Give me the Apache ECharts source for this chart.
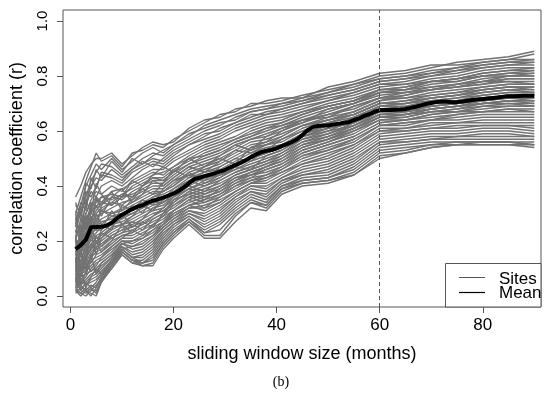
<!DOCTYPE html>
<html><head><meta charset="utf-8">
<script src="https://cdn.jsdelivr.net/npm/echarts@6/dist/echarts.min.js"></script>
<style>html,body{margin:0;padding:0;background:#fff}#c{width:550px;height:394px}</style>
</head><body><div id="c"></div>
<script>
// ---- data ----
const siteMonths = [1,2,3,4,5,6,8,10,12,14,16,18,20,23,26,29,32,35,38,41,45,50,55,60,65,70,75,80,85,90];
const sites = [
 [0.30,0.36,0.42,0.47,0.52,0.49,0.51,0.47,0.52,0.53,0.55,0.54,0.57,0.60,0.63,0.66,0.67,0.70,0.70,0.71,0.73,0.75,0.77,0.80,0.81,0.83,0.85,0.86,0.87,0.89],
 [0.36,0.40,0.45,0.48,0.50,0.50,0.52,0.48,0.51,0.54,0.56,0.55,0.56,0.61,0.64,0.65,0.68,0.69,0.71,0.72,0.72,0.76,0.78,0.81,0.82,0.84,0.84,0.85,0.86,0.88],
 [0.28,0.33,0.40,0.44,0.48,0.46,0.50,0.46,0.49,0.52,0.54,0.52,0.55,0.58,0.62,0.64,0.66,0.68,0.69,0.70,0.72,0.74,0.77,0.79,0.80,0.82,0.83,0.84,0.85,0.86],
 [0.33,0.30,0.36,0.42,0.45,0.48,0.47,0.44,0.47,0.50,0.52,0.51,0.54,0.57,0.60,0.62,0.65,0.67,0.68,0.69,0.71,0.73,0.75,0.78,0.79,0.81,0.82,0.84,0.85,0.85],
 [0.25,0.32,0.34,0.40,0.43,0.42,0.46,0.43,0.46,0.48,0.50,0.49,0.52,0.55,0.58,0.61,0.63,0.65,0.67,0.68,0.70,0.72,0.74,0.77,0.78,0.80,0.81,0.83,0.84,0.84],
 [0.31,0.28,0.38,0.36,0.40,0.44,0.43,0.41,0.45,0.47,0.49,0.48,0.51,0.55,0.57,0.59,0.62,0.64,0.66,0.67,0.69,0.71,0.74,0.77,0.77,0.79,0.80,0.82,0.83,0.83],
 [0.22,0.26,0.33,0.38,0.36,0.40,0.42,0.40,0.43,0.46,0.48,0.47,0.50,0.53,0.56,0.58,0.61,0.63,0.65,0.66,0.68,0.71,0.73,0.76,0.77,0.78,0.79,0.81,0.82,0.82],
 [0.27,0.24,0.30,0.35,0.38,0.37,0.40,0.38,0.42,0.44,0.46,0.46,0.49,0.52,0.55,0.57,0.60,0.62,0.64,0.65,0.67,0.70,0.72,0.75,0.76,0.78,0.79,0.80,0.81,0.81],
 [0.20,0.28,0.27,0.33,0.36,0.34,0.38,0.39,0.41,0.43,0.45,0.44,0.47,0.51,0.54,0.56,0.58,0.61,0.63,0.64,0.67,0.69,0.71,0.75,0.75,0.77,0.78,0.80,0.80,0.81],
 [0.26,0.23,0.29,0.30,0.34,0.36,0.37,0.36,0.40,0.42,0.44,0.45,0.47,0.50,0.53,0.55,0.57,0.60,0.62,0.63,0.66,0.69,0.71,0.74,0.75,0.76,0.77,0.79,0.80,0.80],
 [0.18,0.22,0.30,0.34,0.32,0.36,0.35,0.37,0.39,0.41,0.43,0.43,0.46,0.49,0.52,0.54,0.57,0.59,0.61,0.62,0.65,0.68,0.70,0.74,0.74,0.76,0.77,0.78,0.79,0.79],
 [0.24,0.20,0.26,0.32,0.35,0.33,0.36,0.35,0.38,0.40,0.42,0.42,0.45,0.48,0.51,0.53,0.56,0.58,0.60,0.62,0.64,0.67,0.70,0.73,0.74,0.75,0.76,0.78,0.78,0.78],
 [0.15,0.24,0.25,0.28,0.31,0.34,0.33,0.36,0.37,0.39,0.41,0.41,0.44,0.48,0.50,0.52,0.55,0.57,0.59,0.61,0.64,0.66,0.69,0.72,0.73,0.75,0.76,0.77,0.78,0.77],
 [0.21,0.18,0.27,0.26,0.30,0.32,0.34,0.33,0.36,0.38,0.40,0.40,0.43,0.47,0.49,0.51,0.54,0.57,0.58,0.60,0.63,0.66,0.68,0.72,0.72,0.74,0.75,0.76,0.77,0.77],
 [0.19,0.21,0.23,0.30,0.29,0.30,0.32,0.34,0.35,0.37,0.39,0.39,0.42,0.46,0.48,0.50,0.53,0.56,0.57,0.59,0.62,0.65,0.67,0.71,0.72,0.73,0.74,0.75,0.76,0.76],
 [0.13,0.17,0.22,0.25,0.28,0.31,0.30,0.32,0.34,0.36,0.38,0.38,0.41,0.45,0.47,0.49,0.52,0.55,0.56,0.58,0.62,0.64,0.66,0.70,0.71,0.72,0.73,0.75,0.76,0.75],
 [0.20,0.16,0.20,0.27,0.26,0.28,0.30,0.31,0.33,0.35,0.37,0.38,0.40,0.44,0.46,0.48,0.51,0.54,0.55,0.57,0.61,0.64,0.66,0.70,0.70,0.72,0.73,0.74,0.75,0.75],
 [0.16,0.19,0.18,0.24,0.27,0.26,0.29,0.30,0.32,0.34,0.36,0.37,0.39,0.43,0.45,0.47,0.50,0.53,0.55,0.56,0.60,0.63,0.65,0.69,0.70,0.71,0.72,0.73,0.74,0.74],
 [0.12,0.15,0.21,0.22,0.25,0.27,0.28,0.29,0.31,0.33,0.35,0.36,0.38,0.42,0.45,0.46,0.49,0.52,0.54,0.55,0.59,0.62,0.64,0.69,0.69,0.70,0.71,0.72,0.73,0.73],
 [0.18,0.14,0.17,0.23,0.24,0.24,0.27,0.29,0.30,0.32,0.34,0.35,0.38,0.41,0.44,0.45,0.48,0.51,0.53,0.55,0.59,0.62,0.64,0.68,0.68,0.70,0.71,0.72,0.73,0.73],
 [0.10,0.17,0.16,0.21,0.23,0.25,0.26,0.28,0.30,0.32,0.34,0.34,0.37,0.41,0.43,0.45,0.48,0.50,0.52,0.54,0.58,0.61,0.63,0.68,0.68,0.69,0.70,0.71,0.72,0.72],
 [0.15,0.12,0.19,0.20,0.22,0.23,0.26,0.27,0.29,0.31,0.33,0.34,0.36,0.40,0.43,0.44,0.47,0.50,0.52,0.54,0.58,0.61,0.63,0.67,0.67,0.69,0.70,0.71,0.72,0.72],
 [0.09,0.13,0.15,0.19,0.21,0.22,0.25,0.26,0.28,0.30,0.32,0.33,0.36,0.39,0.42,0.44,0.46,0.49,0.51,0.53,0.57,0.60,0.62,0.67,0.67,0.68,0.69,0.70,0.71,0.71],
 [0.14,0.10,0.13,0.18,0.20,0.21,0.24,0.26,0.27,0.29,0.31,0.32,0.35,0.39,0.41,0.43,0.46,0.48,0.50,0.52,0.56,0.59,0.62,0.66,0.66,0.68,0.69,0.70,0.70,0.70],
 [0.07,0.11,0.14,0.17,0.19,0.20,0.23,0.25,0.26,0.28,0.30,0.31,0.34,0.38,0.40,0.42,0.45,0.47,0.49,0.51,0.55,0.58,0.61,0.65,0.66,0.67,0.68,0.69,0.70,0.69],
 [0.12,0.09,0.12,0.16,0.18,0.19,0.22,0.24,0.25,0.27,0.29,0.31,0.33,0.37,0.39,0.41,0.44,0.46,0.48,0.50,0.54,0.57,0.60,0.65,0.65,0.67,0.67,0.68,0.69,0.69],
 [0.08,0.12,0.10,0.15,0.17,0.18,0.21,0.23,0.24,0.26,0.28,0.30,0.32,0.36,0.38,0.40,0.43,0.45,0.47,0.49,0.53,0.56,0.59,0.64,0.64,0.66,0.67,0.67,0.68,0.68],
 [0.11,0.07,0.11,0.14,0.16,0.17,0.20,0.22,0.23,0.25,0.27,0.29,0.31,0.35,0.37,0.39,0.42,0.44,0.46,0.48,0.52,0.55,0.58,0.63,0.64,0.65,0.66,0.67,0.67,0.67],
 [0.05,0.09,0.13,0.12,0.15,0.16,0.19,0.22,0.22,0.24,0.26,0.28,0.31,0.34,0.36,0.38,0.41,0.44,0.45,0.47,0.51,0.54,0.57,0.62,0.63,0.64,0.65,0.66,0.66,0.66],
 [0.10,0.06,0.08,0.13,0.14,0.15,0.18,0.21,0.21,0.23,0.25,0.27,0.30,0.33,0.35,0.37,0.40,0.43,0.44,0.46,0.50,0.53,0.56,0.62,0.62,0.64,0.64,0.65,0.65,0.65],
 [0.06,0.08,0.09,0.11,0.13,0.14,0.17,0.20,0.20,0.22,0.24,0.26,0.29,0.33,0.34,0.36,0.39,0.42,0.43,0.45,0.49,0.52,0.55,0.61,0.61,0.63,0.63,0.64,0.64,0.64],
 [0.09,0.05,0.07,0.10,0.12,0.13,0.16,0.20,0.19,0.21,0.23,0.26,0.29,0.32,0.33,0.35,0.38,0.41,0.42,0.45,0.48,0.51,0.55,0.60,0.61,0.62,0.63,0.63,0.63,0.63],
 [0.04,0.07,0.08,0.09,0.10,0.12,0.15,0.19,0.18,0.20,0.22,0.25,0.28,0.32,0.32,0.34,0.38,0.41,0.41,0.44,0.48,0.50,0.54,0.60,0.60,0.61,0.62,0.62,0.62,0.62],
 [0.08,0.04,0.06,0.08,0.09,0.11,0.14,0.19,0.17,0.18,0.21,0.25,0.28,0.31,0.30,0.33,0.37,0.40,0.40,0.43,0.47,0.49,0.53,0.59,0.60,0.61,0.61,0.62,0.62,0.61],
 [0.03,0.06,0.05,0.07,0.08,0.10,0.14,0.18,0.16,0.17,0.20,0.24,0.27,0.31,0.29,0.32,0.36,0.40,0.39,0.43,0.46,0.48,0.52,0.58,0.59,0.60,0.60,0.61,0.61,0.60],
 [0.07,0.03,0.04,0.06,0.07,0.09,0.13,0.18,0.15,0.16,0.19,0.24,0.27,0.30,0.28,0.31,0.36,0.39,0.38,0.42,0.45,0.47,0.51,0.57,0.58,0.59,0.59,0.60,0.60,0.59],
 [0.02,0.05,0.04,0.05,0.06,0.08,0.12,0.17,0.14,0.15,0.18,0.23,0.26,0.30,0.27,0.30,0.35,0.38,0.37,0.42,0.44,0.46,0.50,0.56,0.57,0.58,0.58,0.59,0.59,0.58],
 [0.06,0.02,0.05,0.03,0.05,0.08,0.12,0.17,0.14,0.14,0.17,0.22,0.26,0.29,0.26,0.29,0.34,0.38,0.36,0.41,0.44,0.45,0.49,0.56,0.56,0.57,0.58,0.58,0.58,0.58],
 [0.04,0.04,0.02,0.04,0.03,0.07,0.11,0.16,0.13,0.13,0.16,0.21,0.25,0.29,0.25,0.28,0.33,0.37,0.35,0.40,0.43,0.44,0.48,0.55,0.56,0.57,0.57,0.57,0.57,0.57],
 [0.02,0.01,0.03,0.02,0.04,0.06,0.11,0.16,0.13,0.12,0.15,0.20,0.24,0.28,0.24,0.27,0.32,0.36,0.34,0.40,0.42,0.43,0.47,0.54,0.55,0.56,0.56,0.56,0.56,0.56],
 [0.05,0.02,0.01,0.03,0.01,0.06,0.10,0.15,0.12,0.12,0.14,0.19,0.23,0.28,0.23,0.26,0.31,0.35,0.33,0.39,0.42,0.43,0.46,0.53,0.54,0.55,0.56,0.56,0.56,0.55],
 [0.02,0.00,0.02,0.01,0.00,0.05,0.10,0.15,0.12,0.11,0.12,0.18,0.22,0.27,0.22,0.22,0.29,0.34,0.32,0.38,0.41,0.42,0.45,0.52,0.53,0.55,0.55,0.55,0.55,0.55],
 [0.03,0.01,0.00,0.02,0.02,0.05,0.11,0.16,0.13,0.11,0.11,0.17,0.21,0.26,0.21,0.21,0.27,0.32,0.31,0.37,0.40,0.41,0.44,0.51,0.52,0.54,0.55,0.55,0.55,0.54],
 [0.01,0.03,0.02,0.00,0.03,0.07,0.12,0.17,0.14,0.12,0.13,0.19,0.23,0.27,0.23,0.24,0.30,0.34,0.33,0.39,0.41,0.42,0.44,0.50,0.52,0.54,0.55,0.56,0.56,0.55],
 [0.28,0.22,0.35,0.30,0.41,0.37,0.33,0.36,0.42,0.40,0.44,0.47,0.45,0.50,0.47,0.51,0.55,0.53,0.58,0.61,0.63,0.68,0.70,0.74,0.75,0.78,0.78,0.80,0.81,0.82],
 [0.12,0.26,0.20,0.29,0.24,0.33,0.38,0.31,0.35,0.39,0.37,0.41,0.46,0.43,0.47,0.50,0.48,0.54,0.56,0.60,0.64,0.65,0.69,0.72,0.74,0.75,0.77,0.78,0.80,0.80],
 [0.23,0.31,0.24,0.27,0.33,0.29,0.36,0.39,0.34,0.37,0.42,0.40,0.43,0.47,0.45,0.49,0.53,0.52,0.55,0.58,0.62,0.64,0.67,0.71,0.73,0.75,0.76,0.77,0.79,0.79],
 [0.09,0.16,0.27,0.21,0.30,0.26,0.24,0.33,0.31,0.35,0.33,0.39,0.42,0.44,0.42,0.47,0.50,0.49,0.53,0.57,0.60,0.63,0.66,0.70,0.71,0.73,0.74,0.76,0.77,0.77],
 [0.30,0.19,0.23,0.33,0.27,0.31,0.29,0.28,0.33,0.30,0.36,0.38,0.40,0.45,0.41,0.44,0.48,0.50,0.52,0.55,0.59,0.61,0.65,0.69,0.70,0.72,0.73,0.75,0.76,0.76],
 [0.16,0.21,0.12,0.26,0.19,0.24,0.31,0.26,0.29,0.33,0.31,0.35,0.39,0.42,0.40,0.43,0.47,0.46,0.51,0.53,0.58,0.60,0.64,0.68,0.69,0.71,0.72,0.74,0.75,0.74],
 [0.05,0.13,0.18,0.23,0.15,0.21,0.25,0.30,0.25,0.28,0.32,0.34,0.37,0.40,0.38,0.42,0.45,0.47,0.49,0.52,0.57,0.59,0.63,0.67,0.68,0.70,0.71,0.73,0.74,0.74],
 [0.20,0.09,0.15,0.17,0.22,0.18,0.22,0.24,0.27,0.26,0.29,0.32,0.36,0.39,0.37,0.40,0.44,0.46,0.48,0.51,0.56,0.58,0.62,0.66,0.67,0.69,0.70,0.72,0.73,0.73],
 [0.11,0.17,0.08,0.13,0.20,0.16,0.20,0.26,0.23,0.27,0.25,0.30,0.35,0.37,0.35,0.39,0.43,0.44,0.47,0.50,0.55,0.57,0.61,0.66,0.66,0.68,0.69,0.71,0.72,0.71],
 [0.03,0.08,0.12,0.09,0.11,0.14,0.18,0.21,0.24,0.22,0.26,0.29,0.33,0.36,0.34,0.37,0.41,0.43,0.46,0.48,0.53,0.56,0.60,0.64,0.65,0.67,0.68,0.70,0.71,0.71],
 [0.14,0.04,0.09,0.15,0.08,0.12,0.15,0.19,0.20,0.21,0.24,0.27,0.31,0.35,0.32,0.36,0.40,0.42,0.44,0.47,0.52,0.55,0.58,0.63,0.64,0.66,0.67,0.69,0.69,0.69],
 [0.06,0.10,0.03,0.07,0.10,0.08,0.13,0.17,0.18,0.19,0.22,0.26,0.30,0.33,0.31,0.34,0.38,0.41,0.43,0.46,0.51,0.53,0.57,0.62,0.63,0.64,0.66,0.67,0.68,0.67],
 [0.34,0.29,0.41,0.39,0.46,0.43,0.49,0.45,0.50,0.48,0.51,0.53,0.55,0.59,0.61,0.63,0.64,0.67,0.68,0.70,0.71,0.74,0.76,0.79,0.80,0.81,0.83,0.85,0.86,0.86],
 [0.26,0.34,0.31,0.43,0.39,0.45,0.44,0.42,0.46,0.49,0.47,0.50,0.53,0.56,0.59,0.60,0.63,0.66,0.66,0.68,0.70,0.73,0.75,0.78,0.79,0.80,0.82,0.83,0.84,0.85],
 [0.13,0.21,0.29,0.25,0.36,0.31,0.34,0.37,0.36,0.40,0.43,0.42,0.45,0.50,0.51,0.53,0.56,0.58,0.61,0.63,0.66,0.69,0.71,0.75,0.76,0.78,0.79,0.81,0.82,0.83],
 [0.22,0.11,0.16,0.19,0.17,0.23,0.21,0.23,0.26,0.24,0.28,0.30,0.34,0.38,0.36,0.38,0.42,0.45,0.47,0.49,0.54,0.57,0.61,0.65,0.66,0.68,0.69,0.70,0.71,0.70]
];
const meanValues = [
 0.170,0.185,0.205,0.250,0.251,0.252,0.256,0.266,0.282,0.295,
 0.306,0.316,0.325,0.330,0.340,0.347,0.352,0.358,0.365,0.372,
 0.382,0.395,0.410,0.425,0.430,0.436,0.441,0.446,0.452,0.459,
 0.468,0.476,0.484,0.493,0.505,0.515,0.523,0.528,0.531,0.537,
 0.545,0.552,0.560,0.570,0.585,0.603,0.614,0.618,0.620,0.620,
 0.624,0.626,0.630,0.632,0.640,0.646,0.655,0.661,0.670,0.676,
 0.676,0.676,0.677,0.678,0.680,0.684,0.688,0.693,0.698,0.702,
 0.705,0.707,0.706,0.705,0.705,0.707,0.710,0.713,0.715,0.716,
 0.718,0.720,0.722,0.725,0.726,0.726,0.727,0.728,0.728,0.728
];
const xTicks = [0,20,40,60,80];
const yTicks = [0,0.2,0.4,0.6,0.8,1.0];
const cutoffMonth = 60;
const legendNames = ['Sites','Mean'];
const xTitle = 'sliding window size (months)';
const yTitle = 'correlation coefficient (r)';
const panelLabel = '(b)';

// ---- chart ----
const FONT = '"Liberation Sans", Arial, sans-serif';
const chart = echarts.init(document.getElementById('c'), null, {renderer:'canvas'});
const series = sites.map((vals, i) => ({
  type:'line', name:'site'+(i+1), data: vals.map((v,j)=>[siteMonths[j], v]),
  showSymbol:false, silent:true, animation:false,
  lineStyle:{color:'#727272', width:1.4}, z:2
}));
series.push({
  type:'line', name:'cutoff', data:[], silent:true, animation:false, z:3,
  markLine:{symbol:'none', silent:true, animation:false, label:{show:false},
    lineStyle:{color:'#555', width:1, type:[4,3]}, data:[{xAxis:cutoffMonth}]}
});
series.push({
  type:'line', name:'Mean', data: meanValues.map((v,i)=>[i+1, v]),
  showSymbol:false, silent:true, animation:false,
  lineStyle:{color:'#000', width:4}, z:4
});
chart.setOption({
  animation:false,
  backgroundColor:'#fff',
  grid:{left:63, right:9, top:10, bottom:87, show:true, borderColor:'#555', borderWidth:1, backgroundColor:'transparent'},
  xAxis:{type:'value', min:-1.44, max:91.3,
    axisLine:{show:false, onZero:false}, splitLine:{show:false},
    axisTick:{show:true, length:6, lineStyle:{color:'#555'}, customValues:xTicks},
    axisLabel:{customValues:xTicks, color:'#000', fontSize:17, fontFamily:FONT, margin:10},
    name:xTitle, nameLocation:'middle', nameGap:38,
    nameTextStyle:{color:'#000', fontSize:18, fontFamily:FONT}},
  yAxis:{type:'value', min:-0.04, max:1.04,
    axisLine:{show:false, onZero:false}, splitLine:{show:false},
    axisTick:{show:true, length:6, lineStyle:{color:'#555'}, customValues:yTicks},
    axisLabel:{customValues:yTicks, rotate:90, color:'#000', fontSize:15, fontFamily:FONT, margin:13,
      formatter:v=>v.toFixed(1)},
    name:yTitle, nameLocation:'middle', nameGap:37,
    nameTextStyle:{color:'#000', fontSize:18, fontFamily:FONT}},
  series: series,
  graphic:[
    {type:'rect', z:100, shape:{x:445.5, y:263.5, width:95.5, height:43.5}, style:{fill:'#fff', stroke:'#555', lineWidth:1}},
    {type:'line', z:101, shape:{x1:459, y1:277.5, x2:485, y2:277.5}, style:{stroke:'#555', lineWidth:1}},
    {type:'line', z:101, shape:{x1:459, y1:292.5, x2:485, y2:292.5}, style:{stroke:'#000', lineWidth:1.2}},
    {type:'text', z:101, x:499, y:279, style:{text:legendNames[0], fontSize:17, fontFamily:FONT, fill:'#000', verticalAlign:'middle'}},
    {type:'text', z:101, x:499, y:293, style:{text:legendNames[1], fontSize:17, fontFamily:FONT, fill:'#000', verticalAlign:'middle'}},
    {type:'text', z:101, x:281, y:382, style:{text:panelLabel, fontSize:14, fontFamily:'"Liberation Serif", "Times New Roman", serif', fill:'#000', align:'center', verticalAlign:'middle'}}
  ]
});
</script></body></html>
